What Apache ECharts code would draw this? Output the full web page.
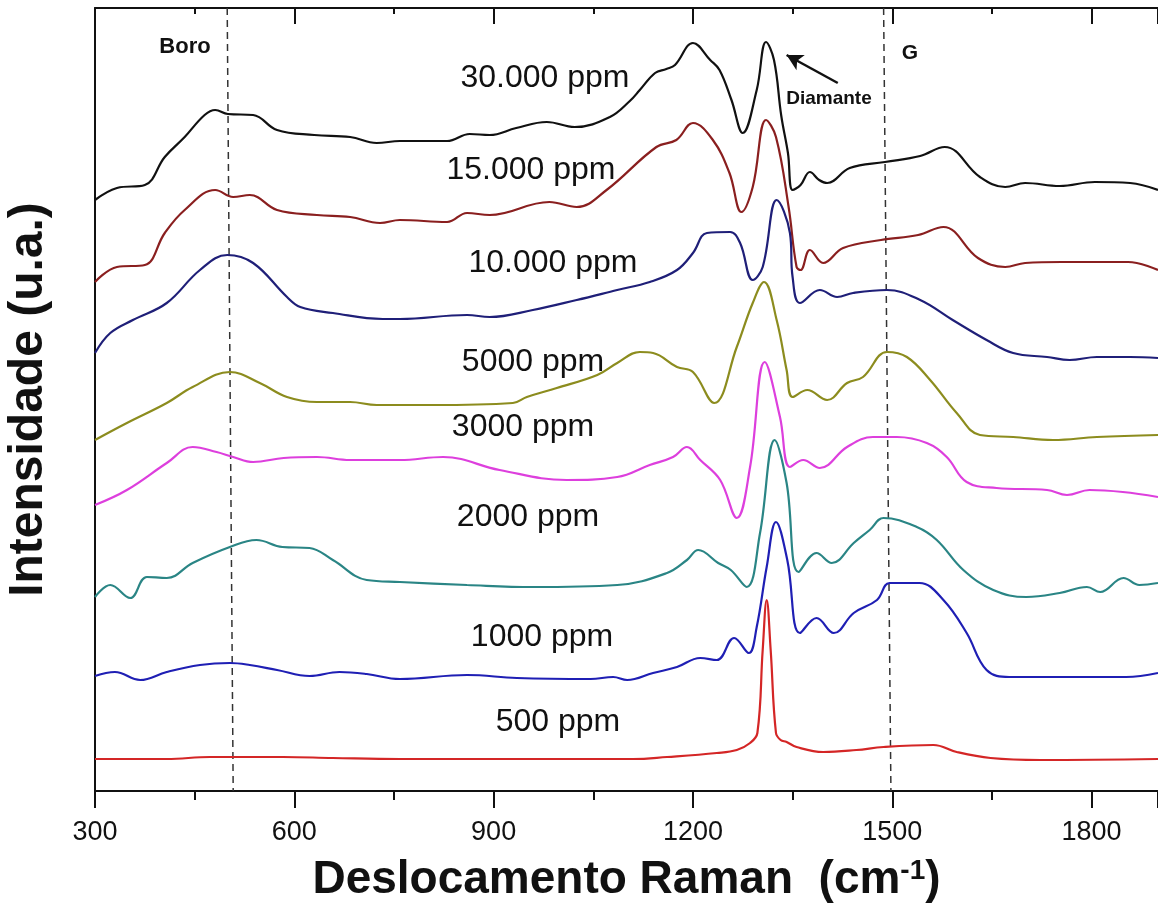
<!DOCTYPE html>
<html>
<head>
<meta charset="utf-8">
<script src="https://cdn.jsdelivr.net/npm/echarts@6/dist/echarts.min.js"></script>
<style>
html,body{margin:0;padding:0;background:#fff;}
#main{width:1158px;height:904px;}
</style>
</head>
<body>
<div id="main"></div>
<script>
// espectros Raman, intensidade em u.a. (curvas deslocadas)
var s30000 = [[300,591],[333,603],[375,606],[405,634],[435,654],[465,676],[481,681],[500,677],[538,676],[574,661],[630,656],[684,654],[724,648],[759,650],[830,650],[864,657],[894,656],[934,663],[980,669],[1022,664],[1075,674],[1105,690],[1120,701],[1143,718],[1160,722],[1173,726],[1200,748],[1226,731],[1240,721],[1258,691],[1275,658],[1296,701],[1310,749],[1322,731],[1333,675],[1343,638],[1350,601],[1362,606],[1376,619],[1390,611],[1402,608],[1436,623],[1489,629],[1542,635],[1579,644],[1632,614],[1670,604],[1700,608],[1752,605],[1805,609],[1858,608],[1900,601]];
var s15000 = [[300,509],[333,524],[375,526],[405,558],[435,581],[481,601],[508,594],[533,596],[574,581],[634,576],[684,574],[729,568],[759,571],[830,569],[860,578],[894,576],[984,589],[1025,584],[1070,601],[1145,644],[1175,651],[1200,668],[1230,651],[1255,618],[1273,579],[1290,604],[1310,671],[1325,654],[1344,584],[1356,524],[1362,521],[1376,541],[1396,528],[1426,543],[1483,551],[1539,556],[1577,564],[1629,533],[1670,524],[1700,528],[1755,529],[1810,529],[1855,529],[1900,521]];
var s10000 = [[300,438],[323,458],[357,471],[408,488],[458,521],[499,536],[538,528],[589,494],[609,484],[658,478],[733,472],[759,472],[860,476],[894,474],[959,481],[1025,491],[1086,501],[1135,509],[1176,521],[1200,538],[1221,558],[1256,559],[1271,548],[1290,511],[1305,524],[1326,591],[1346,558],[1350,514],[1361,488],[1391,501],[1417,494],[1441,498],[1492,501],[1542,491],[1591,471],[1642,451],[1682,438],[1733,434],[1767,431],[1808,434],[1858,434],[1900,433]];
var s5000 = [[300,351],[348,368],[408,388],[447,404],[503,419],[548,408],[589,394],[634,389],[684,389],[724,386],[809,386],[929,388],[950,394],[995,403],[1056,416],[1086,428],[1120,439],[1140,438],[1176,424],[1200,419],[1232,388],[1266,444],[1290,488],[1307,509],[1326,471],[1341,421],[1350,394],[1372,401],[1402,391],[1432,408],[1456,414],[1492,439],[1522,434],[1557,411],[1597,378],[1632,356],[1682,354],[1742,351],[1808,354],[1900,356]];
var s3000 = [[300,286],[348,301],[408,328],[447,344],[483,339],[508,334],[538,329],[584,333],[634,334],[684,331],[759,331],[824,334],[909,321],[1010,311],[1086,314],[1135,326],[1170,334],[1191,344],[1211,331],[1241,311],[1266,273],[1286,324],[1308,429],[1331,374],[1346,324],[1366,331],[1391,323],[1432,344],[1471,354],[1507,354],[1552,348],[1582,334],[1612,309],[1657,303],[1733,301],[1763,296],[1797,301],[1847,299],[1900,294]];
var s2000 = [[300,194],[323,206],[353,193],[378,214],[408,213],[447,228],[503,244],[543,251],[582,244],[623,243],[658,231],[709,211],[759,209],[860,206],[959,204],[1086,206],[1161,218],[1191,231],[1208,241],[1238,228],[1257,221],[1281,204],[1301,258],[1323,351],[1341,308],[1359,219],[1386,238],[1409,228],[1442,248],[1466,261],[1487,273],[1537,264],[1567,251],[1607,221],[1652,201],[1702,194],[1752,198],[1793,204],[1813,199],[1848,213],[1872,206],[1900,208]];
var s1000 = [[300,115],[330,119],[368,111],[408,119],[458,126],[503,128],[533,126],[574,121],[623,115],[668,119],[709,117],[759,112],[860,116],[935,113],[1046,112],[1080,114],[1101,111],[1140,118],[1176,124],[1211,133],[1236,131],[1262,153],[1284,138],[1296,164],[1311,224],[1325,269],[1342,231],[1361,158],[1386,173],[1412,158],[1442,178],[1477,191],[1496,208],[1541,208],[1577,191],[1612,158],[1642,121],[1676,114],[1777,114],[1852,114],[1900,118]];
var s500 = [[300,32],[408,32],[473,34],[508,34],[583,34],[658,33],[759,32],[959,32],[1110,32],[1161,34],[1236,38],[1266,41],[1286,48],[1297,58],[1305,141],[1311,191],[1317,141],[1325,58],[1332,51],[1341,49],[1356,44],[1396,39],[1446,41],[1487,44],[1562,46],[1597,39],[1648,33],[1723,31],[1900,32]];

var nomes = ['30.000 ppm','15.000 ppm','10.000 ppm','5000 ppm','3000 ppm','2000 ppm','1000 ppm','500 ppm'];
var cores = ['#111111','#8a1f1f','#1f1f78','#8c8c1e','#dd3fdd','#2a8585','#1f1fb4','#d42626'];
var dados = [s30000,s15000,s10000,s5000,s3000,s2000,s1000,s500];

// linhas tracejadas (Boro e G)
var linhaBoro = [[499,783],[508,0]];
var linhaG = [[1487,783],[1498,0]];

var fonte = '"Liberation Sans", Arial, sans-serif';

var myChart = echarts.init(document.getElementById('main'));

var series = [];
for (var i = 0; i < dados.length; i++) {
	series.push({
		name: nomes[i],
		type: 'line',
		data: dados[i],
		showSymbol: false,
		smooth: 0.4,
		lineStyle: { color: cores[i], width: 2.2 },
		z: 3
	});
}
series.push({
	type: 'line', data: linhaBoro, showSymbol: false,
	lineStyle: { color: '#333', width: 1.5, type: [7, 5] }, z: 2
});
series.push({
	type: 'line', data: linhaG, showSymbol: false,
	lineStyle: { color: '#333', width: 1.5, type: [7, 5] }, z: 2,
	markLine: {
		silent: true,
		symbol: ['none', 'arrow'],
		symbolSize: [13, 16],
		label: { show: false },
		lineStyle: { color: '#111', width: 2.5, type: 'solid' },
		data: [[{ coord: [1418, 708] }, { coord: [1341, 736] }]]
	}
});

function rotulo(v) {
	return String(v);
}

var option = {
	animation: false,
	backgroundColor: '#fff',
	grid: { left: 95, right: 0, top: 8, bottom: 113, outerBoundsMode: 'none' },
	xAxis: [{
		type: 'value',
		min: 300,
		max: 1900,
		interval: 300,
		position: 'bottom',
		name: 'Deslocamento Raman  (cm{sup|-1})',
		nameLocation: 'middle',
		nameGap: 66,
		nameTextStyle: {
			fontFamily: fonte, fontSize: 46, fontWeight: 'bold', color: '#111',
			rich: { sup: { fontFamily: fonte, fontSize: 28, fontWeight: 'bold', color: '#111', verticalAlign: 'top', lineHeight: 30 } }
		},
		axisLine: { show: true, lineStyle: { color: '#111', width: 2 } },
		axisTick: { show: true, inside: false, length: 17, lineStyle: { color: '#111', width: 2 } },
		minorTick: { show: true, splitNumber: 2, length: 9, lineStyle: { color: '#111', width: 2 } },
		axisLabel: { showMaxLabel: false, margin: 28, fontFamily: fonte, fontSize: 27, color: '#111', formatter: rotulo },
		splitLine: { show: false }
	}, {
		type: 'value',
		min: 300,
		max: 1900,
		interval: 300,
		position: 'top',
		axisLine: { show: true, lineStyle: { color: '#111', width: 2 } },
		axisTick: { show: true, inside: true, length: 16, lineStyle: { color: '#111', width: 2 } },
		minorTick: { show: true, splitNumber: 2, length: 6, lineStyle: { color: '#111', width: 2 } },
		axisLabel: { show: false },
		splitLine: { show: false }
	}],
	yAxis: {
		type: 'value',
		min: 0,
		max: 783,
		name: 'Intensidade (u.a.)',
		nameLocation: 'middle',
		nameGap: 42,
		nameTextStyle: { fontFamily: fonte, fontSize: 48, fontWeight: 'bold', color: '#111' },
		axisLine: { show: true, lineStyle: { color: '#111', width: 2 } },
		axisTick: { show: false },
		axisLabel: { show: false },
		splitLine: { show: false }
	},
	graphic: [
		{ type: 'text', x: 545, y: 78, style: { text: nomes[0], font: '32px ' + fonte, fill: '#111', align: 'center', verticalAlign: 'middle' } },
		{ type: 'text', x: 531, y: 170, style: { text: nomes[1], font: '32px ' + fonte, fill: '#111', align: 'center', verticalAlign: 'middle' } },
		{ type: 'text', x: 553, y: 263, style: { text: nomes[2], font: '32px ' + fonte, fill: '#111', align: 'center', verticalAlign: 'middle' } },
		{ type: 'text', x: 533, y: 362, style: { text: nomes[3], font: '32px ' + fonte, fill: '#111', align: 'center', verticalAlign: 'middle' } },
		{ type: 'text', x: 523, y: 427, style: { text: nomes[4], font: '32px ' + fonte, fill: '#111', align: 'center', verticalAlign: 'middle' } },
		{ type: 'text', x: 528, y: 517, style: { text: nomes[5], font: '32px ' + fonte, fill: '#111', align: 'center', verticalAlign: 'middle' } },
		{ type: 'text', x: 542, y: 637, style: { text: nomes[6], font: '32px ' + fonte, fill: '#111', align: 'center', verticalAlign: 'middle' } },
		{ type: 'text', x: 558, y: 722, style: { text: nomes[7], font: '32px ' + fonte, fill: '#111', align: 'center', verticalAlign: 'middle' } },
		{ type: 'text', x: 185, y: 47, style: { text: 'Boro', font: 'bold 22px ' + fonte, fill: '#111', align: 'center', verticalAlign: 'middle' } },
		{ type: 'text', x: 910, y: 53, style: { text: 'G', font: 'bold 21px ' + fonte, fill: '#111', align: 'center', verticalAlign: 'middle' } },
		{ type: 'text', x: 829, y: 99, style: { text: 'Diamante', font: 'bold 19px ' + fonte, fill: '#111', align: 'center', verticalAlign: 'middle' } }
	],
	series: series
};
myChart.setOption(option);
</script>
</body>
</html>
